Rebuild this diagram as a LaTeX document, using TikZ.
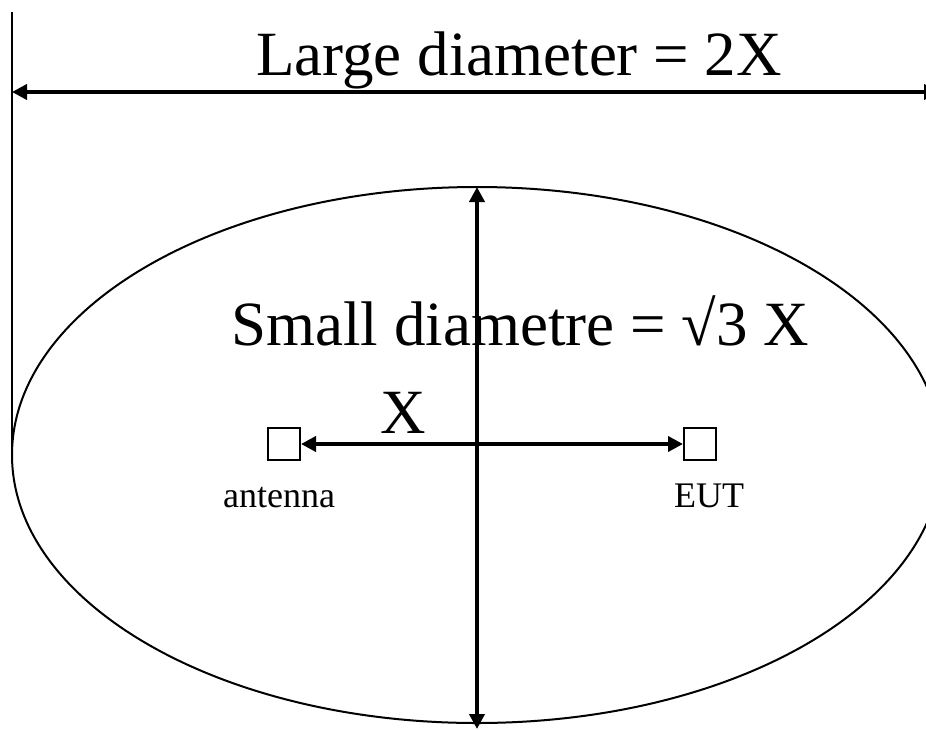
\documentclass[tikz,border=0pt]{standalone}
\usepackage{fontspec}
\setmainfont{Liberation Serif}
\usetikzlibrary{arrows.meta,shapes.geometric}
\begin{document}
\begin{tikzpicture}[x=1pt,y=-1pt,
  thick line/.style={line width=4pt},
  thin line/.style={line width=2pt},
  dimarrow/.style={thick line,{Triangle[length=15pt,width=15pt]}-{Triangle[length=15pt,width=15pt]}},
  bigtext/.style={font=\fontsize{63}{63}\selectfont, inner sep=0pt, anchor=base},
  smalltext/.style={font=\fontsize{36}{36}\selectfont, inner sep=0pt, anchor=base},
  sq/.style={draw, thin line, minimum size=32pt, inner sep=0pt}]
\useasboundingbox (0,0) rectangle (926,729);
% ellipse
\node[draw, thin line, ellipse, minimum width=930pt, minimum height=536pt, inner sep=0pt] (ell) at (477,455) {};
% left guide line
\coordinate (gtop) at (12,12);
\coordinate (gbot) at (12,462);
\draw[thin line] (gtop) -- (gbot);
% large diameter arrow
\coordinate (ltL) at (12,92);
\coordinate (ltR) at (939,92);
\draw[dimarrow] (ltL) -- (ltR);
\node[bigtext] (large) at (519,75) {Large diameter = 2X};
% vertical small diameter arrow
\coordinate (vT) at (477,187);
\coordinate (vB) at (477,729);
\draw[dimarrow] (vT) -- (vB);
\node[bigtext] (small) at (520,345) {Small diametre = √3 X};
% squares
\node[sq] (ant) at (284,444) {};
\node[sq] (eut) at (700,444) {};
\draw[dimarrow] (ant.east) -- (eut.west);
\node[bigtext] (xlab) at (403,433) {X};
\node[smalltext] (antl) at (279,507) {antenna};
\node[smalltext] (eutl) at (709,507) {EUT};
\end{tikzpicture}
\end{document}
